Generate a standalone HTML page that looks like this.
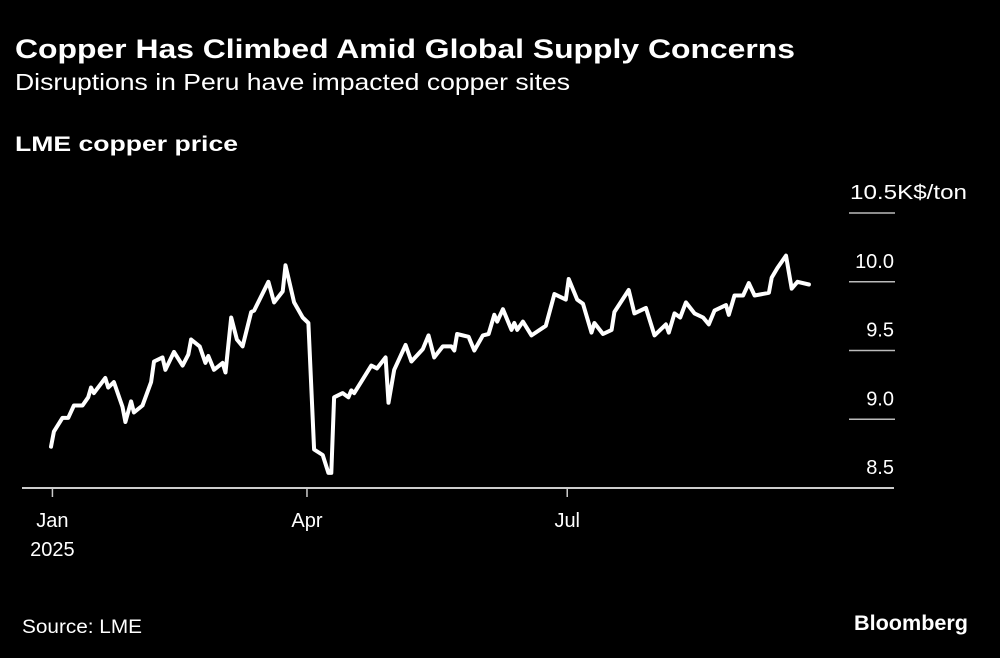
<!DOCTYPE html>
<html><head><meta charset="utf-8"><style>
html,body{margin:0;padding:0;background:#000;}
svg{display:block;font-family:"Liberation Sans",sans-serif;}
</style></head><body>
<svg id="chart" width="1000" height="658" viewBox="0 0 1000 658">
<rect width="1000" height="658" fill="#000"/>
<text x="15" y="58" fill="#fff" font-size="27" font-weight="bold" textLength="780" lengthAdjust="spacingAndGlyphs">Copper Has Climbed Amid Global Supply Concerns</text>
<text x="15" y="90" fill="#fff" font-size="23" textLength="555" lengthAdjust="spacingAndGlyphs">Disruptions in Peru have impacted copper sites</text>
<text x="15" y="151" fill="#fff" font-size="21" font-weight="bold" textLength="223" lengthAdjust="spacingAndGlyphs">LME copper price</text>
<g id="yaxis"></g>
<g id="xaxis"></g>
<path id="line" fill="none" stroke="#fff" stroke-width="4" stroke-linejoin="round" stroke-linecap="round"/>
<text x="22" y="633" fill="#fff" font-size="19" textLength="120" lengthAdjust="spacingAndGlyphs">Source: LME</text>
<text x="968" y="630" fill="#fff" font-size="21" font-weight="bold" text-anchor="end" textLength="114" lengthAdjust="spacingAndGlyphs">Bloomberg</text>
</svg>
<script>
const days=[0,1,4,6,8,11,13,14,15,19,20,22,25,26,28,29,32,35,36,39,40,43,46,48,49,52,54,55,57,60,61,63,65,67,70,71,76,78,81,82,85,88,90,92,95,97,98,99,102,104,105,106,112,114,117,118,120,124,126,130,132,134,137,140,141,142,146,148,151,153,155,156,158,161,162,163,165,168,173,176,180,181,184,186,189,190,193,196,197,202,204,208,211,215,216,218,220,222,225,228,230,232,236,237,239,242,244,246,251,252,254,257,259,261,265];
const prices=[8.80,8.91,9.01,9.01,9.10,9.10,9.16,9.23,9.19,9.30,9.23,9.27,9.09,8.98,9.13,9.05,9.10,9.27,9.42,9.45,9.36,9.49,9.39,9.47,9.58,9.53,9.41,9.46,9.36,9.41,9.34,9.74,9.58,9.53,9.78,9.79,10.00,9.85,9.93,10.12,9.85,9.74,9.70,8.78,8.74,8.61,8.61,9.16,9.19,9.16,9.21,9.19,9.39,9.37,9.45,9.12,9.36,9.54,9.42,9.51,9.61,9.45,9.53,9.53,9.50,9.62,9.60,9.50,9.61,9.62,9.76,9.71,9.80,9.65,9.70,9.65,9.71,9.61,9.68,9.91,9.87,10.02,9.87,9.84,9.63,9.70,9.62,9.65,9.78,9.94,9.77,9.81,9.61,9.69,9.63,9.77,9.74,9.85,9.77,9.74,9.69,9.79,9.83,9.76,9.90,9.90,9.99,9.90,9.92,10.03,10.10,10.19,9.95,10.00,9.98];
const yTicks=[8.5,9.0,9.5,10.0,10.5];
const yTickLabels=["8.5","9.0","9.5","10.0","10.5K$/ton"];
const xTickDays=[0.5,89.5,180.5];
const xTickLabels=["Jan","Apr","Jul"];
const NS="http://www.w3.org/2000/svg";
function xs(d){return 51+d*2.86;}
function ys(v){return 488-(v-8.5)*137.5;}
const ya=document.getElementById('yaxis');
yTicks.forEach((t,i)=>{
  if(i>0){
    const l=document.createElementNS(NS,'line');
    
    
    l.setAttribute('x1',849);l.setAttribute('x2',895);
    l.setAttribute('y1',ys(t));l.setAttribute('y2',ys(t));
    l.setAttribute('stroke','#bbb');l.setAttribute('stroke-width','1.5');
    ya.appendChild(l);
  }
  const tx=document.createElementNS(NS,'text');
  
  
  tx.setAttribute('fill','#fff');tx.setAttribute('font-size','20');
  tx.setAttribute('y',ys(t)-14);
  if(i===yTicks.length-1){tx.setAttribute('x',850);tx.setAttribute('textLength',117);tx.setAttribute('lengthAdjust','spacingAndGlyphs');}
  else{tx.setAttribute('x',894);tx.setAttribute('text-anchor','end');}
  tx.textContent=yTickLabels[i];
  ya.appendChild(tx);
});
const xa=document.getElementById('xaxis');
const ax=document.createElementNS(NS,'line');


ax.setAttribute('x1',22);ax.setAttribute('x2',894);ax.setAttribute('y1',488);ax.setAttribute('y2',488);
ax.setAttribute('stroke','#ccc');ax.setAttribute('stroke-width','2');
xa.appendChild(ax);
xTickDays.forEach((d,i)=>{
  const t=document.createElementNS(NS,'line');
  
  
  t.setAttribute('x1',xs(d));t.setAttribute('x2',xs(d));t.setAttribute('y1',488);t.setAttribute('y2',497);
  t.setAttribute('stroke','#ccc');t.setAttribute('stroke-width','1.5');
  xa.appendChild(t);
  const tx=document.createElementNS(NS,'text');
  
  
  tx.setAttribute('fill','#fff');tx.setAttribute('font-size','20');
  tx.setAttribute('x',xs(d));tx.setAttribute('y',527);tx.setAttribute('text-anchor','middle');
  tx.textContent=xTickLabels[i];
  xa.appendChild(tx);
});
const yr=document.createElementNS(NS,'text');


yr.setAttribute('fill','#fff');yr.setAttribute('font-size','20');
yr.setAttribute('x',xs(0.5));yr.setAttribute('y',556);yr.setAttribute('text-anchor','middle');
yr.textContent='2025';
xa.appendChild(yr);
let d='';
days.forEach((dd,i)=>{d+=(i?'L':'M')+xs(dd).toFixed(1)+','+ys(prices[i]).toFixed(1);});
document.getElementById('line').setAttribute('d',d);
</script>
</body></html>
